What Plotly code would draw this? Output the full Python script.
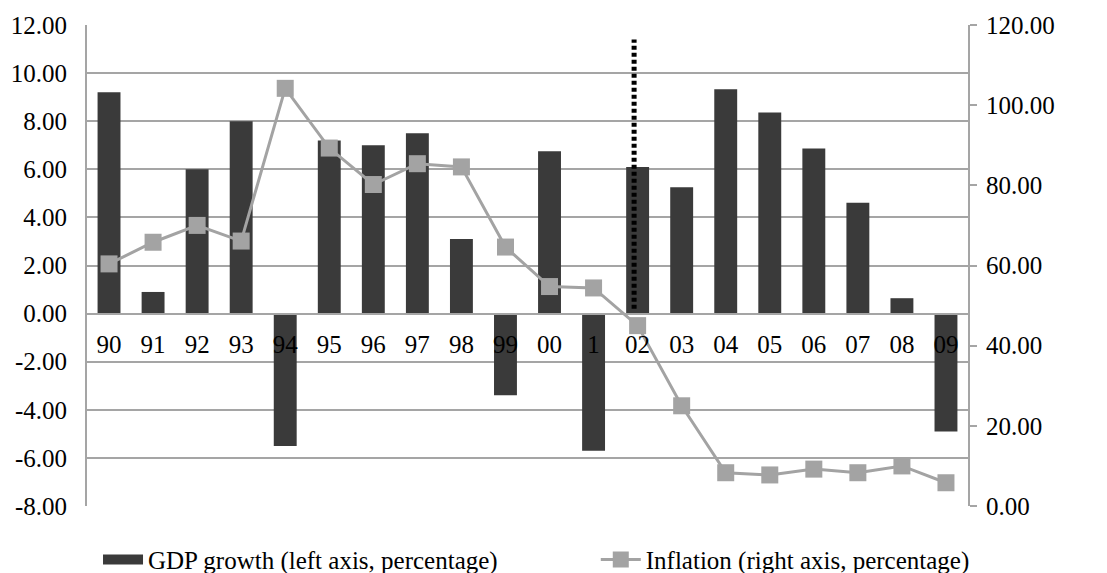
import plotly.graph_objects as go

years = ["90", "91", "92", "93", "94", "95", "96", "97", "98", "99",
         "00", "1", "02", "03", "04", "05", "06", "07", "08", "09"]
gdp_growth = [9.2, 0.9, 6.0, 8.0, -5.5, 7.2, 7.0, 7.5, 3.1, -3.4,
              6.75, -5.7, 6.1, 5.25, 9.33, 8.36, 6.86, 4.61, 0.64, -4.9]
inflation = [60.4, 65.8, 70.0, 66.1, 104.2, 89.3, 80.2, 85.4, 84.6, 64.6,
             54.75, 54.4, 45.0, 25.0, 8.3, 7.75, 9.2, 8.3, 10.0, 5.8]
left_ticks = [12, 10, 8, 6, 4, 2, 0, -2, -4, -6, -8]
left_tick_text = ["12.00", "10.00", "8.00", "6.00", "4.00", "2.00", "0.00",
                  "-2.00", "-4.00", "-6.00", "-8.00"]
right_ticks = [0, 20, 40, 60, 80, 100, 120]
right_tick_text = ["0.00", "20.00", "40.00", "60.00", "80.00", "100.00", "120.00"]
break_x = 11.92
break_y = [0.2, 11.4]

FONT = "Liberation Serif"
GRID = "#a5a5a5"
BAR = "#3a3a3a"
LINE = "#a3a3a3"

fig = go.Figure()
fig.add_trace(go.Bar(
    x=years, y=gdp_growth, name="GDP growth (left axis, percentage)",
    marker=dict(color=BAR, line=dict(width=0)), showlegend=False,
))
# legend proxy for the bar series (wide swatch like the original)
fig.add_trace(go.Scatter(
    x=[None], y=[None], name="GDP growth (left axis, percentage)",
    mode="lines", line=dict(color=BAR, width=15), legend="legend",
))
fig.add_trace(go.Scatter(
    x=years, y=inflation, name="Inflation (right axis, percentage)", yaxis="y2",
    mode="lines+markers",
    line=dict(color=LINE, width=3),
    marker=dict(symbol="square", size=17, color=LINE),
    legend="legend2",
))

fig.add_shape(type="line", xref="x", yref="y",
              x0=break_x, x1=break_x, y0=break_y[0], y1=break_y[1],
              line=dict(color="black", width=5, dash="4px,3px"))

legend_common = dict(orientation="h", xanchor="left", yanchor="middle", y=-0.112,
                     font=dict(family=FONT, size=25), bgcolor="rgba(0,0,0,0)",
                     itemwidth=40)
fig.update_layout(
    width=1107, height=573,
    margin=dict(l=87, r=139, t=25, b=67, autoexpand=False),
    plot_bgcolor="white", paper_bgcolor="white",
    font=dict(family=FONT, size=25, color="black"),
    bargap=0.48,
    showlegend=True,
    legend=dict(x=0.0125, **legend_common),
    legend2=dict(x=0.5775, **legend_common),
    xaxis=dict(type="category", anchor="free", position=0.4,
               range=[-0.5, len(years) - 0.5],
               showline=True, linecolor=GRID, linewidth=2,
               ticks="", showgrid=False, ticklabelstandoff=8,
               tickfont=dict(family=FONT, size=25)),
    yaxis=dict(range=[-8, 12], tickvals=left_ticks, ticktext=left_tick_text,
               showgrid=True, gridcolor=GRID, gridwidth=2,
               zeroline=True, zerolinecolor=GRID, zerolinewidth=2,
               showline=True, linecolor=GRID, linewidth=2,
               ticks="", ticklabelstandoff=13,
               tickfont=dict(family=FONT, size=25)),
    yaxis2=dict(range=[0, 120], tickvals=right_ticks, ticktext=right_tick_text,
                overlaying="y", side="right", showgrid=False, zeroline=False,
                showline=True, linecolor=GRID, linewidth=2,
                ticks="outside", ticklen=7, tickcolor=GRID, tickwidth=2,
                ticklabelstandoff=4,
                tickfont=dict(family=FONT, size=25)),
)

fig.write_html("out.html", config={"displayModeBar": False},
               post_script="document.body.style.margin='0px';"
                           "document.body.style.overflow='hidden';")
